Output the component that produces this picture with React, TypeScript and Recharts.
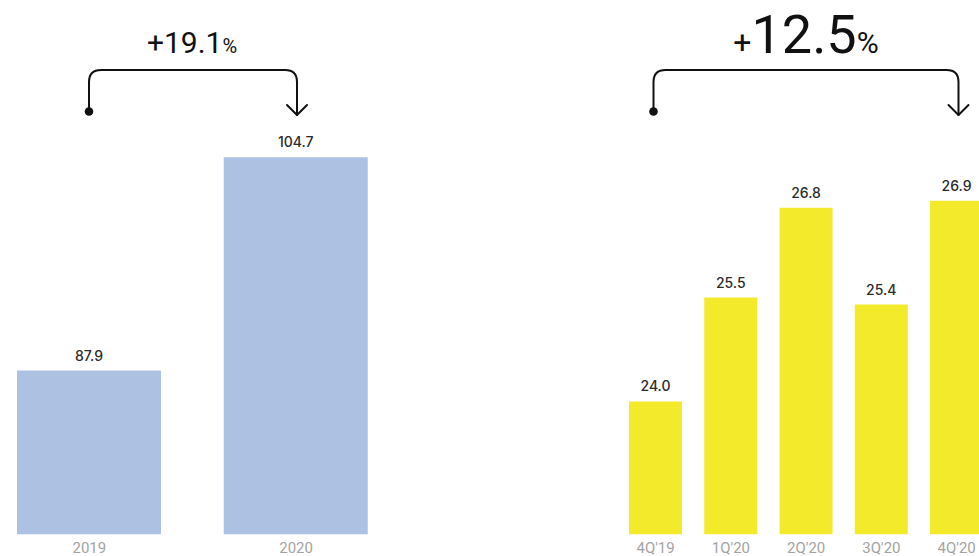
import { Bar, BarChart, LabelList, XAxis, YAxis } from "recharts";

const yearLabels = ["2019", "2020"];
const yearValues = [87.9, 104.7];

const quarterLabels = ["4Q'19", "1Q'20", "2Q'20", "3Q'20", "4Q'20"];
const quarterValues = [24.0, 25.5, 26.8, 25.4, 26.9];

const yearGrowth = "+19.1";
const quarterGrowth = "12.5";

const yearData = yearLabels.map((name, i) => ({ name, value: yearValues[i] }));
const quarterData = quarterLabels.map((name, i) => ({ name, value: quarterValues[i] }));

const FONT = "Roboto, 'Noto Sans', sans-serif";
const tickStyle = { fontSize: 15, fill: "#a3a3a3", fontFamily: FONT };
const labelStyle = { fontSize: 14, fill: "#2b2b2b", fontWeight: 500, fontFamily: "Inter, Roboto, sans-serif" };

function fmt(v: unknown) {
  return Number(v).toFixed(1);
}

function Bracket({ x1, x2 }: { x1: number; x2: number }) {
  const top = 70;
  const r = 12;
  return (
    <g stroke="#111" strokeWidth={2} fill="none" strokeLinecap="round" strokeLinejoin="round">
      <path d={`M${x1},111 V${top + r} Q${x1},${top} ${x1 + r},${top} H${x2 - r} Q${x2},${top} ${x2},${top + r} V115`} />
      <path d={`M${x2 - 10},105 L${x2},115 L${x2 + 10},105`} />
      <circle cx={x1} cy={111.5} r={4.3} fill="#111" stroke="none" />
    </g>
  );
}

export default function App() {
  return (
    <div style={{ position: "fixed", left: 0, top: 0, width: 979, height: 556, overflow: "hidden", background: "#fff" }}>
      <div style={{ position: "absolute", left: -14.5, top: 0 }}>
        <BarChart width={413.5} height={556} data={yearData} margin={{ top: 90, right: 0, bottom: 0, left: 0 }}>
          <XAxis dataKey="name" height={21.7} tickLine={false} axisLine={false} tick={tickStyle} interval={0} />
          <YAxis hide domain={[75, 110]} />
          <Bar dataKey="value" fill="#adc2e2" barSize={144} isAnimationActive={false}>
            <LabelList dataKey="value" position="top" offset={10} formatter={fmt} style={labelStyle} />
          </Bar>
        </BarChart>
      </div>
      <div style={{ position: "absolute", left: 617.7, top: 0 }}>
        <BarChart width={376.3} height={556} data={quarterData} margin={{ top: 90, right: 0, bottom: 0, left: 0 }}>
          <XAxis dataKey="name" height={21.7} tickLine={false} axisLine={false} tick={tickStyle} interval={0} />
          <YAxis hide domain={[22.08, 28.5]} />
          <Bar dataKey="value" fill="#f4ea2c" barSize={53} isAnimationActive={false}>
            <LabelList dataKey="value" position="top" offset={10} formatter={fmt} style={labelStyle} />
          </Bar>
        </BarChart>
      </div>
      <svg width={979} height={556} style={{ position: "absolute", left: 0, top: 0, pointerEvents: "none" }}>
        <text x={192} y={53} textAnchor="middle" fill="#111" fontFamily={FONT}>
          <tspan fontSize={30}>{yearGrowth}</tspan>
          <tspan fontSize={20}>%</tspan>
        </text>
        <Bracket x1={89} x2={297} />
        <text x={806} y={53} textAnchor="middle" fill="#111" fontFamily={FONT}>
          <tspan fontSize={32}>+</tspan>
          <tspan fontSize={54}>{quarterGrowth}</tspan>
          <tspan fontSize={30}>%</tspan>
        </text>
        <Bracket x1={653.5} x2={958.5} />
      </svg>
    </div>
  );
}
